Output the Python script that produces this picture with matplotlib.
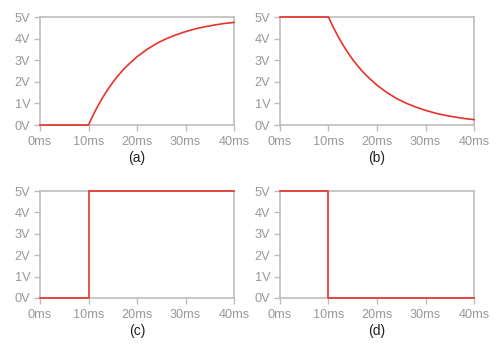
import matplotlib
matplotlib.use("Agg")
import matplotlib.pyplot as plt

plt.rcParams['font.family'] = ['Liberation Sans', 'DejaVu Sans']

# time in ms
t_curve = [0, 10, 11, 12, 13, 14, 15, 16, 17, 18, 20, 22, 24, 26, 28, 30,
           32, 34, 36, 38, 40]
v_charge = [0, 0, 0.48, 0.91, 1.30, 1.65, 1.97, 2.26, 2.52, 2.75, 3.16,
            3.49, 3.77, 3.99, 4.17, 4.32, 4.45, 4.55, 4.63, 4.70, 4.75]
v_discharge = [5, 5, 4.52, 4.09, 3.70, 3.35, 3.03, 2.74, 2.48, 2.25, 1.84,
               1.51, 1.23, 1.01, 0.83, 0.68, 0.55, 0.45, 0.37, 0.30, 0.25]

t_step = [0, 10, 10, 40]
v_step_up = [0, 0, 5, 5]
v_step_down = [5, 5, 0, 0]

x_ticks = [0, 10, 20, 30, 40]
x_labels = ['0ms', '10ms', '20ms', '30ms', '40ms']
y_ticks = [0, 1, 2, 3, 4, 5]
y_labels = ['0V', '1V', '2V', '3V', '4V', '5V']
captions = ['(a)', '(b)', '(c)', '(d)']

W, H = 502, 352
fig = plt.figure(figsize=(W / 100, H / 100), dpi=100)

# left, top, right, bottom in pixels
boxes = [(40, 17, 234, 125), (280, 17, 474, 125),
         (40, 191, 234, 298), (280, 191, 474, 298)]
series = [(t_curve, v_charge), (t_curve, v_discharge),
          (t_step, v_step_up), (t_step, v_step_down)]

grey = '#bdbdbd'
for (l, tp, r, b), (xs, ys), cap in zip(boxes, series, captions):
    ax = fig.add_axes([l / W, 1 - b / H, (r - l) / W, (b - tp) / H])
    ax.plot(xs, ys, color='#e8322a', lw=1.2, clip_on=False, zorder=5)
    ax.set_xlim(0, 40)
    ax.set_ylim(0, 5)
    ax.set_xticks(x_ticks)
    ax.set_xticklabels(x_labels)
    ax.set_yticks(y_ticks)
    ax.set_yticklabels(y_labels)
    for s in ax.spines.values():
        s.set_color(grey)
        s.set_linewidth(1.2)
    ax.tick_params(colors=grey, labelcolor='#999999', labelsize=9.2,
                   length=4, width=1, pad=3)
    ax.tick_params(axis='x', pad=4)
    ax.text(0.5, -0.305, cap, transform=ax.transAxes, ha='center', va='center',
            fontsize=10, color='#222222')

fig.savefig('out.png', dpi=100)
